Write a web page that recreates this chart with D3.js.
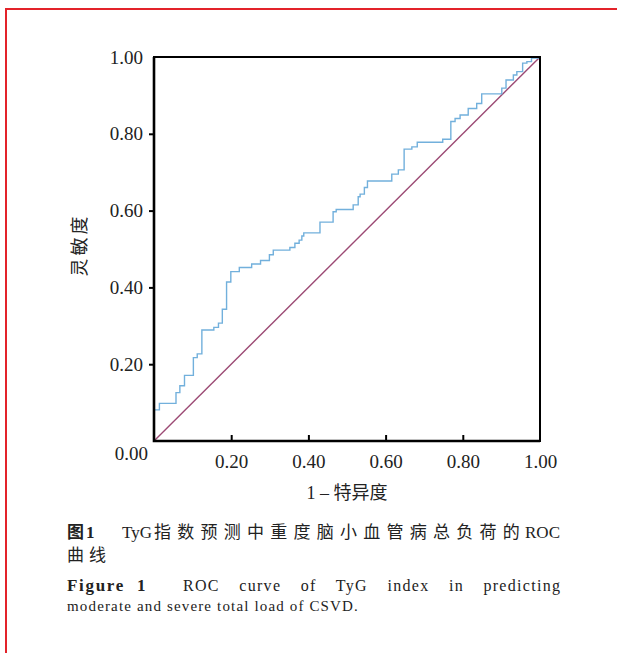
<!DOCTYPE html>
<html>
<head>
<meta charset="utf-8">
<script src="https://cdn.jsdelivr.net/npm/d3@7"></script>
<style>
  body { margin: 0; background: #fff; }
  svg { display: block; }
</style>
</head>
<body>
<div id="canvas"></div>
<script>
// ROC points (1 - specificity, sensitivity)
const fpr = [0, 0, 0.014, 0.057, 0.067, 0.079, 0.102, 0.112, 0.124, 0.155, 0.167, 0.177, 0.188, 0.199,
  0.221, 0.253, 0.276, 0.299, 0.309, 0.352, 0.365, 0.376, 0.383, 0.388, 0.430, 0.464, 0.472, 0.516,
  0.529, 0.534, 0.545, 0.553, 0.616, 0.633, 0.648, 0.668, 0.682, 0.748, 0.769, 0.780, 0.793, 0.814,
  0.836, 0.849, 0.901, 0.912, 0.931, 0.940, 0.955, 0.966, 0.978, 1]
const tpr = [0, 0.081, 0.098, 0.126, 0.144, 0.171, 0.217, 0.227, 0.289, 0.296, 0.307, 0.343, 0.414, 0.441,
  0.452, 0.461, 0.470, 0.485, 0.497, 0.504, 0.515, 0.523, 0.534, 0.542, 0.570, 0.597, 0.603, 0.615,
  0.636, 0.643, 0.660, 0.677, 0.695, 0.706, 0.760, 0.766, 0.778, 0.786, 0.832, 0.840, 0.849, 0.866,
  0.879, 0.904, 0.919, 0.940, 0.953, 0.962, 0.984, 0.988, 0.997, 1]
const refLine = [[0, 0], [1, 1]]
const tickVals = [0.2, 0.4, 0.6, 0.8, 1.0]

const xTitle = ['1 – ', '特异度']
const yTitle = '灵敏度'
const captionCn = ['图', '1', 'TyG', '指数预测中重度脑小血管病总负荷的', 'ROC', '曲线']
const captionEn = ['Figure 1', 'ROC curve of TyG index in predicting', 'moderate and severe total load of CSVD.']

const W = 617, H = 653
const plot = {left: 154, right: 540, top: 57, bottom: 441}
const serif = '"Liberation Serif", "Noto Sans CJK SC", serif'
const cjk = '"Noto Sans CJK SC", sans-serif'
const ink = '#222'

const svg = d3.select('#canvas')
  .append('svg')
  .attr('width', W)
  .attr('height', H)

// red frame around the figure
svg.append('path')
  .attr('d', `M6,${H} L6,9 L${W},9`)
  .attr('fill', 'none')
  .attr('stroke', '#e3232a')
  .attr('stroke-width', 2)

const x = d3.scaleLinear().domain([0, 1]).range([plot.left, plot.right])
const y = d3.scaleLinear().domain([0, 1]).range([plot.bottom, plot.top])

// diagonal reference
svg.append('path')
  .datum(refLine)
  .attr('d', d3.line().x(d => x(d[0])).y(d => y(d[1])))
  .attr('fill', 'none')
  .attr('stroke', '#9c4a74')
  .attr('stroke-width', 1.4)

// ROC step curve
const pts = fpr.map((f, i) => [f, tpr[i]])
svg.append('path')
  .datum(pts)
  .attr('d', d3.line().x(d => x(d[0])).y(d => y(d[1])).curve(d3.curveStepAfter))
  .attr('fill', 'none')
  .attr('stroke', '#72b0dc')
  .attr('stroke-width', 1.4)

// frame
svg.append('rect')
  .attr('x', plot.left)
  .attr('y', plot.top)
  .attr('width', plot.right - plot.left)
  .attr('height', plot.bottom - plot.top)
  .attr('fill', 'none')
  .attr('stroke', '#000')
  .attr('stroke-width', 2)
svg.append('path')
  .attr('d', `M${plot.left},${plot.top} V${plot.bottom} H${plot.right}`)
  .attr('fill', 'none')
  .attr('stroke', '#000')
  .attr('stroke-width', 2.6)

const fmt = d3.format('.2f')

const yAxis = svg.append('g')
  .attr('transform', `translate(${plot.left},0)`)
  .call(d3.axisLeft(y).tickValues(tickVals).tickSize(5).tickPadding(6).tickFormat(fmt))
yAxis.select('.domain').remove()
yAxis.selectAll('.tick line').attr('stroke-width', 2)
  .filter(d => d === 1).remove()

const xAxis = svg.append('g')
  .attr('transform', `translate(0,${plot.bottom})`)
  .call(d3.axisBottom(x).tickValues(tickVals).tickSize(-6).tickPadding(14).tickFormat(fmt))
xAxis.select('.domain').remove()
xAxis.selectAll('.tick line').attr('stroke-width', 2)
  .filter(d => d === 1).remove()

svg.selectAll('.tick text')
  .attr('font-family', serif)
  .attr('font-size', '19px')
  .attr('fill', ink)

// shared origin label
svg.append('text')
  .attr('x', x(0) - 6)
  .attr('y', y(0) + 19)
  .attr('text-anchor', 'end')
  .attr('font-family', serif)
  .attr('font-size', '19px')
  .attr('fill', ink)
  .text(fmt(0))

// axis titles
const xt = svg.append('text')
  .attr('x', (plot.left + plot.right) / 2)
  .attr('y', 499)
  .attr('text-anchor', 'middle')
  .attr('font-size', '18px')
  .attr('fill', ink)
xt.append('tspan').attr('font-family', serif).text(xTitle[0])
xt.append('tspan').attr('font-family', cjk).text(xTitle[1])

svg.append('text')
  .attr('transform', `translate(86,${(plot.top + plot.bottom) / 2 - 4}) rotate(-90)`)
  .attr('text-anchor', 'middle')
  .attr('font-family', cjk)
  .attr('font-size', '18px')
  .attr('letter-spacing', '3px')
  .attr('fill', ink)
  .text(yTitle)

// caption
const capL = 67, capR = 560

function txt (xp, yp, s, fam, size, weight) {
  return svg.append('text')
    .attr('x', xp)
    .attr('y', yp)
    .attr('font-family', fam)
    .attr('font-size', size)
    .attr('font-weight', weight || 'normal')
    .attr('fill', ink)
    .text(s)
}

// spread a run so that it fills [x0, x1] (trailing letter gap included)
function fit (sel, x1, byWord) {
  const x0 = +sel.attr('x')
  const s = sel.text()
  const nat = sel.node().getComputedTextLength()
  if (byWord) {
    const gaps = s.split(' ').length - 1
    sel.attr('word-spacing', ((x1 - x0 - nat) / gaps) + 'px')
  } else {
    sel.attr('letter-spacing', ((x1 - x0 - nat) / s.length) + 'px')
  }
  return sel
}

txt(capL, 538, captionCn[0], cjk, '17px', 'bold')
txt(86, 538, captionCn[1], serif, '17px', 'bold')
txt(122, 538, captionCn[2], serif, '17px')
fit(txt(154, 538, captionCn[3], cjk, '17px'), 526)
txt(capR, 538, captionCn[4], serif, '17px').attr('text-anchor', 'end')
txt(capL, 561, captionCn[5], cjk, '17px').attr('letter-spacing', '5px')

// english caption, letter-spaced and justified through word spacing
txt(capL, 591, captionEn[0], serif, '17px', 'bold')
  .attr('letter-spacing', '1.7px')
  .attr('word-spacing', '6px')
fit(txt(183, 591, captionEn[1], serif, '16px').attr('letter-spacing', '1.3px'), capR + 1.3, true)

fit(txt(capL, 611, captionEn[2], serif, '15px'), 359)
</script>
</body>
</html>
